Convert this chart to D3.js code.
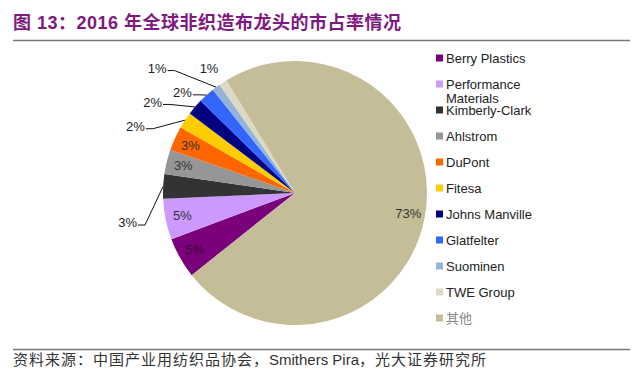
<!DOCTYPE html>
<html>
<head>
<meta charset="utf-8">
<script src="https://cdn.jsdelivr.net/npm/d3@7"></script>
<style>
  body { margin: 0; background: #fff; }
  svg { display: block; font-family: "Liberation Sans", Arial, "Noto Sans CJK SC", sans-serif; }
</style>
</head>
<body>
<svg id="chart" width="640" height="377"></svg>
<script>
// data
const companies = ["Berry Plastics", "Performance Materials", "Kimberly-Clark", "Ahlstrom", "DuPont",
    "Fitesa", "Johns Manville", "Glatfelter", "Suominen", "TWE Group", "其他"];
const shares = [5, 5, 3, 3, 3, 2, 2, 2, 1, 1, 73];
const colors = ["#7B007B", "#CC99FF", "#333333", "#969696", "#FF6600",
    "#FFCC00", "#000080", "#3366FF", "#95B3D7", "#DDD9C4", "#C4BD97"];

// labels that sit outside the pie: [angle in degrees clockwise from top, distance from centre]
const outside = {
    "Kimberly-Clark": [260, 170],
    "Fitesa": [292.7, 173],
    "Johns Manville": [302.6, 169],
    "Glatfelter": [311.8, 151],
    "Suominen": [312.2, 186],
    "TWE Group": [325.3, 151]
};
const noLeader = { "TWE Group": true };

const svg = d3.select("#chart");
const cx = 295, cy = 193, R = 132;
const rad = Math.PI / 180;

// title + rules
svg.append("text")
    .attr("x", 13).attr("y", 29)
    .attr("fill", "#80197F")
    .attr("font-size", 18).attr("font-weight", "bold")
    .attr("letter-spacing", 0.5)
    .text("图 13：2016 年全球非织造布龙头的市占率情况");

svg.append("line").attr("x1", 13).attr("x2", 630).attr("y1", 40.5).attr("y2", 40.5)
    .attr("stroke", "#777").attr("stroke-width", 1.5);
svg.append("line").attr("x1", 13).attr("x2", 630).attr("y1", 349.5).attr("y2", 349.5)
    .attr("stroke", "#777").attr("stroke-width", 1.5);

const src = svg.append("text")
    .attr("x", 13).attr("y", 365)
    .attr("fill", "#333")
    .attr("font-size", 15)
    .attr("letter-spacing", 1)
    .attr("font-family", "'Noto Sans CJK SC', sans-serif");
src.append("tspan").text("资料来源：中国产业用纺织品协会，");
src.append("tspan").attr("font-family", "'Liberation Sans', Arial, sans-serif")
    .attr("letter-spacing", 0).text("Smithers Pira");
src.append("tspan").text("，光大证券研究所");

// pie
const a0 = 231.5 * rad;
const pie = d3.pie().sort(null).value(d => d.v).startAngle(a0).endAngle(a0 + 2 * Math.PI);
const rows = companies.map((c, i) => ({ name: c, v: shares[i], color: colors[i] }));
const arcs = pie(rows);
const arc = d3.arc().innerRadius(0).outerRadius(R);
const labelArc = d3.arc().innerRadius(115).outerRadius(115);

const g = svg.append("g").attr("transform", `translate(${cx},${cy})`);

g.selectAll("path.slice")
    .data(arcs)
    .enter()
    .append("path")
    .attr("class", "slice")
    .attr("d", arc)
    .attr("fill", d => d.data.color);

function polar(angDeg, r) {
    return [Math.sin(angDeg * rad) * r, -Math.cos(angDeg * rad) * r];
}

arcs.forEach(d => {
    const txt = d.data.v + "%";
    const pos = outside[d.data.name];
    if (!pos) {
        const c = labelArc.centroid(d);
        g.append("text")
            .attr("x", c[0]).attr("y", c[1])
            .attr("text-anchor", "middle").attr("dy", "0.35em")
            .attr("font-size", 13)
            .attr("fill", d.data.name === "Berry Plastics" ? "#3A0A3A" : "#333")
            .text(txt);
        return;
    }
    const p = polar(pos[0], pos[1]);
    const t = g.append("text")
        .attr("x", p[0]).attr("y", p[1])
        .attr("text-anchor", "middle").attr("dy", "0.35em")
        .attr("font-size", 13).attr("fill", "#222")
        .text(txt);
    if (noLeader[d.data.name]) return;
    const w = t.node().getComputedTextLength();
    const mid = (d.startAngle + d.endAngle) / 2;
    const edge = [Math.sin(mid) * R, -Math.cos(mid) * R];
    const ly = p[1] + 2.5;
    const x1 = p[0] + w / 2 + 1;
    g.append("polyline")
        .attr("points", [[x1, ly], [x1 + 7, ly], edge].map(q => q.join(",")).join(" "))
        .attr("fill", "none").attr("stroke", "#111").attr("stroke-width", 1);
});

// legend
const legendY = d3.scalePoint().domain(companies).range([58, 318]);
const lg = svg.append("g");
companies.forEach((c, i) => {
    const y = legendY(c);
    lg.append("rect").attr("x", 436).attr("y", y - 3.5).attr("width", 7).attr("height", 7)
        .attr("fill", colors[i]);
    const t = lg.append("text").attr("x", 446).attr("y", y).attr("dy", "0.35em")
        .attr("font-size", 13).attr("fill", c === "其他" ? "#888" : "#222");
    if (c === "Performance Materials") {
        t.append("tspan").text("Performance");
        t.append("tspan").attr("x", 446).attr("dy", "1.1em").text("Materials");
    } else {
        t.text(c);
    }
});
</script>
</body>
</html>
